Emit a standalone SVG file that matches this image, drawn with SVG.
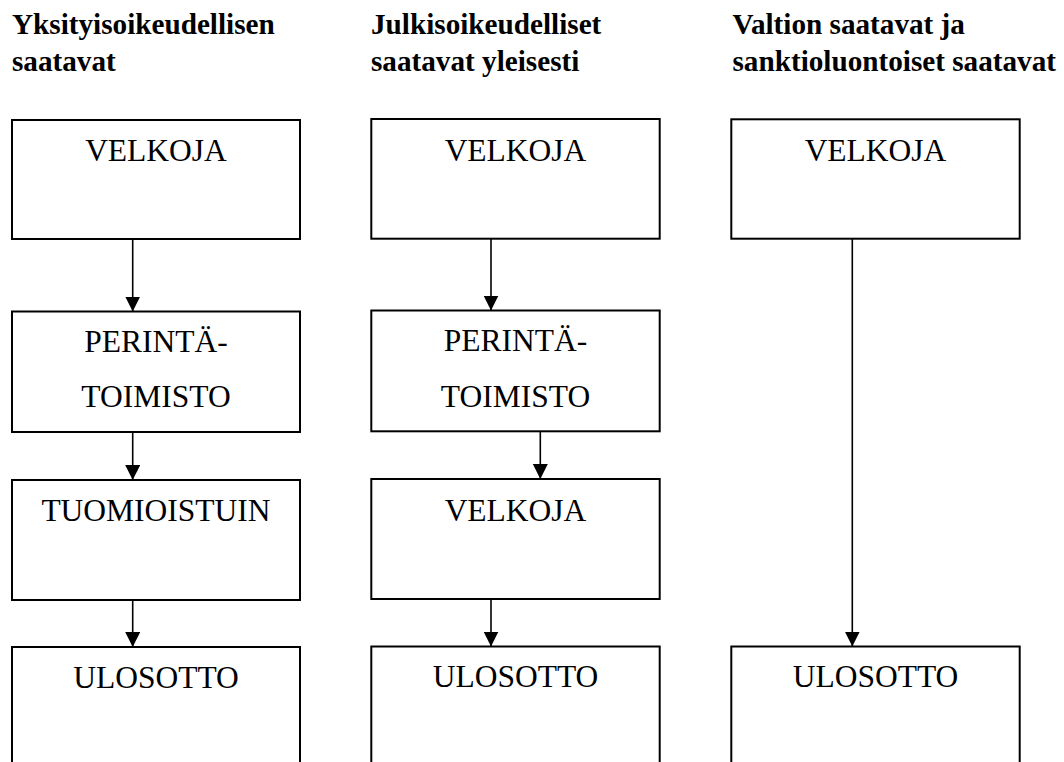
<svg xmlns="http://www.w3.org/2000/svg" width="1064" height="762" viewBox="0 0 1064 762">
<style>
.bg{fill:#fff}
.box{fill:#fff;stroke:#000;stroke-width:2}
.lbl{font-size:31.5px;fill:#000;text-anchor:middle}
.ttl{font-size:29.2px;font-weight:bold;fill:#000}
.con{stroke:#000;stroke-width:1.6;fill:none;marker-end:url(#ah)}
</style>
<defs>
<marker id="ah" markerUnits="userSpaceOnUse" markerWidth="16" markerHeight="16" refX="15" refY="7.5" orient="auto">
<path d="M0,0 L15,7.5 L0,15 z" fill="#000"/>
</marker>
</defs>
<rect class="bg" x="0" y="0" width="1064" height="762"/>
<g id="titles" font-family="'Liberation Serif', 'Times New Roman', 'DejaVu Serif', serif">
<text class="ttl" x="12" y="34.3">Yksityisoikeudellisen</text>
<text class="ttl" x="12" y="70.7">saatavat</text>
<text class="ttl" x="371" y="34.3">Julkisoikeudelliset</text>
<text class="ttl" x="371" y="70.7">saatavat yleisesti</text>
<text class="ttl" x="732.5" y="34.3">Valtion saatavat ja</text>
<text class="ttl" x="732.5" y="70.7">sanktioluontoiset saatavat</text>
</g>
<g id="connectors">
<line class="con" x1="132.7" y1="239" x2="132.7" y2="311.5"/>
<line class="con" x1="132.7" y1="432" x2="132.7" y2="480"/>
<line class="con" x1="132.7" y1="600" x2="132.7" y2="647"/>
<line class="con" x1="491" y1="239" x2="491" y2="310.5"/>
<line class="con" x1="540.3" y1="431" x2="540.3" y2="479"/>
<line class="con" x1="491" y1="599" x2="491" y2="646.5"/>
<line class="con" x1="852.3" y1="239" x2="852.3" y2="646.5"/>
</g>
<g id="nodes" font-family="'Liberation Serif', 'Times New Roman', 'DejaVu Serif', serif">
<g id="c1-velkoja"><rect class="box" x="12" y="120" width="288" height="119"/><text class="lbl" x="156" y="161">VELKOJA</text></g>
<g id="c1-perintatoimisto"><rect class="box" x="12" y="311.5" width="288" height="120.5"/><text class="lbl" x="156" y="351.5">PERINTÄ-</text><text class="lbl" x="156" y="407">TOIMISTO</text></g>
<g id="c1-tuomioistuin"><rect class="box" x="12" y="480" width="288" height="120"/><text class="lbl" x="156" y="520.5">TUOMIOISTUIN</text></g>
<g id="c1-ulosotto"><rect class="box" x="12" y="647" width="288" height="130"/><text class="lbl" x="156" y="687.7">ULOSOTTO</text></g>
<g id="c2-velkoja"><rect class="box" x="371.3" y="119" width="288.4" height="119.7"/><text class="lbl" x="515.5" y="160.5">VELKOJA</text></g>
<g id="c2-perintatoimisto"><rect class="box" x="371.3" y="310.5" width="288.4" height="120.8"/><text class="lbl" x="515.5" y="350.7">PERINTÄ-</text><text class="lbl" x="515.5" y="406.7">TOIMISTO</text></g>
<g id="c2-velkoja2"><rect class="box" x="371.3" y="479" width="288.4" height="120"/><text class="lbl" x="515.5" y="520.5">VELKOJA</text></g>
<g id="c2-ulosotto"><rect class="box" x="371.3" y="646.5" width="288.4" height="130"/><text class="lbl" x="515.5" y="687.2">ULOSOTTO</text></g>
<g id="c3-velkoja"><rect class="box" x="731.3" y="119.3" width="288.4" height="119.4"/><text class="lbl" x="875.5" y="160.5">VELKOJA</text></g>
<g id="c3-ulosotto"><rect class="box" x="731.3" y="646.5" width="288.4" height="130"/><text class="lbl" x="875.5" y="687">ULOSOTTO</text></g>
</g>
</svg>
